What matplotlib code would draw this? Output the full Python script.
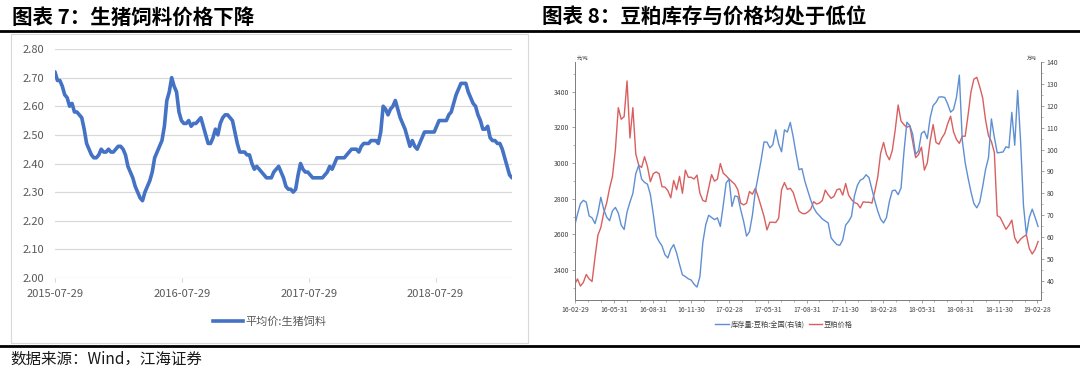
import numpy as np
import pandas as pd
import matplotlib
matplotlib.use("Agg")
import matplotlib.pyplot as plt
from matplotlib.lines import Line2D
from matplotlib.patches import Rectangle
from matplotlib.ticker import FormatStrFormatter, MultipleLocator

plt.rcParams['font.family'] = ['Noto Sans CJK SC', 'DejaVu Sans']
plt.rcParams['axes.unicode_minus'] = False

# ---- 图表7: 平均价:生猪饲料 (周度, 元/公斤) ----
feed_start = "2015-07-29"
feed_ticks = ["2015-07-29", "2016-07-29", "2017-07-29", "2018-07-29"]
feed_price = [
    2.72, 2.69, 2.69, 2.67, 2.64, 2.63, 2.60, 2.61, 2.58, 2.58,
    2.57, 2.56, 2.52, 2.47, 2.45, 2.43, 2.42, 2.42, 2.43, 2.45,
    2.44, 2.44, 2.45, 2.44, 2.44, 2.45, 2.46, 2.46, 2.45, 2.43,
    2.39, 2.37, 2.35, 2.32, 2.30, 2.28, 2.27, 2.30, 2.32, 2.34,
    2.37, 2.42, 2.44, 2.46, 2.48, 2.53, 2.62, 2.65, 2.70, 2.67,
    2.65, 2.58, 2.55, 2.54, 2.54, 2.55, 2.53, 2.54, 2.54, 2.55,
    2.56, 2.53, 2.50, 2.47, 2.47, 2.49, 2.52, 2.50, 2.54, 2.56,
    2.57, 2.57, 2.56, 2.55, 2.51, 2.47, 2.44, 2.44, 2.44, 2.43,
    2.43, 2.40, 2.38, 2.39, 2.38, 2.37, 2.36, 2.35, 2.35, 2.35,
    2.37, 2.38, 2.39, 2.37, 2.35, 2.32, 2.31, 2.31, 2.30, 2.31,
    2.36, 2.40, 2.38, 2.37, 2.37, 2.36, 2.35, 2.35, 2.35, 2.35,
    2.35, 2.36, 2.37, 2.39, 2.38, 2.40, 2.42, 2.42, 2.42, 2.42,
    2.43, 2.44, 2.45, 2.45, 2.45, 2.44, 2.46, 2.47, 2.47, 2.47,
    2.48, 2.48, 2.48, 2.47, 2.51, 2.60, 2.59, 2.57, 2.59, 2.60,
    2.62, 2.59, 2.56, 2.54, 2.52, 2.49, 2.46, 2.48, 2.46, 2.45,
    2.47, 2.49, 2.51, 2.51, 2.51, 2.51, 2.51, 2.53, 2.55, 2.55,
    2.55, 2.55, 2.57, 2.58, 2.61, 2.64, 2.66, 2.68, 2.68, 2.68,
    2.65, 2.63, 2.61, 2.60, 2.57, 2.55, 2.52, 2.52, 2.53, 2.49,
    2.48, 2.48, 2.47, 2.47, 2.45, 2.42, 2.39, 2.36, 2.35,
]

# ---- 图表8: 豆粕价格(元/吨) 与 库存量:豆粕:全国(万吨) ----
meal_start = "2016-02-27"
meal_end = "2019-03-03"
meal_price = [
    2320, 2350, 2310, 2330, 2375, 2350, 2336, 2470, 2595, 2638,
    2720, 2775, 2858, 2925, 3075, 3310, 3245, 3260, 3460, 3140,
    3310, 3050, 2988, 2975, 3035, 2980, 2895, 2940, 2950, 2940,
    2867, 2865, 2845, 2805, 2902, 2850, 2925, 2830, 2960, 2920,
    2920, 2910, 2932, 2830, 2790, 2783, 2858, 2935, 2898, 2910,
    2997, 2943, 2928, 2910, 2895, 2880, 2850, 2775, 2765, 2775,
    2840, 2825, 2858, 2810, 2755, 2700, 2625, 2668, 2668, 2666,
    2690, 2850, 2890, 2852, 2858, 2835, 2780, 2730, 2718, 2715,
    2725, 2740, 2783, 2770, 2775, 2790, 2848, 2822, 2802, 2813,
    2850, 2855, 2820, 2885, 2820, 2795, 2778, 2772, 2748, 2782,
    2780, 2780, 2775, 2842, 2920, 3055, 3115, 3048, 3018, 3070,
    3185, 3325, 3235, 3215, 3200, 3208, 3120, 3030, 3047, 3089,
    2960, 3000, 3125, 3215, 3115, 3105, 3140, 3166, 3220, 3262,
    3175, 3132, 3110, 3150, 3150, 3270, 3400, 3470, 3480, 3427,
    3365, 3240, 3153, 3120, 3060, 2705, 2695, 2662, 2628, 2650,
    2680, 2580, 2550, 2573, 2587, 2597, 2520, 2490, 2515, 2560,
]
meal_stock = [
    65, 70.5, 75.3, 76.8, 76, 69.7, 68.8, 66.2, 71, 78.2,
    72.7, 69.2, 67.5, 72, 73.6, 71, 65.5, 63.5, 71.5, 76,
    80, 89, 92.8, 86.5, 85, 84.2, 79.5, 70.5, 60.5, 58,
    56, 52, 50.5, 54.5, 56.6, 52.8, 47.6, 42.8, 42, 41,
    40.4, 38.5, 37.2, 42, 57.6, 65.7, 70, 69, 68, 68.8,
    64.9, 74.5, 84.8, 86.5, 74, 78.8, 78.5, 72.5, 67.2, 60.5,
    62.5, 70, 80.8, 88, 95.2, 103.5, 103.4, 100.8, 102.2, 109,
    102.6, 99, 109, 108, 112.4, 105.8, 98, 90.8, 91.3, 85.6,
    81.2, 77, 73.5, 71.2, 69.8, 68.3, 67.4, 66.5, 59.7, 58,
    56.6, 56.3, 58.8, 65.5, 67.2, 69.5, 78.8, 83.6, 86, 86.7,
    88.5, 87.2, 82, 76.6, 71.9, 68.2, 66.5, 69, 76.3, 81.2,
    81.5, 79.4, 82.5, 99, 112.5, 111, 107, 97.8, 99.5, 107.4,
    108.4, 105, 114.6, 120.1, 121.6, 124, 124.1, 123.8, 120.8, 117.1,
    118.3, 123.8, 134, 104.3, 94, 87, 80.6, 75.3, 73.4, 76,
    83.1, 91, 96.3, 114, 105.7, 98.5, 98.7, 98.9, 101.3, 100.8,
    117, 102, 127, 104, 74.5, 61.2, 69, 72.8, 69, 64.9,
]

W, H = 1080, 370
fig = plt.figure(figsize=(W / 100, H / 100), dpi=100)

def fx(px):
    return px / W

def fy(py):
    return 1 - py / H

# ---------------- 左图 ----------------
feed_dates = pd.date_range(feed_start, periods=len(feed_price), freq="7D")
ax1 = fig.add_axes([fx(55), fy(278), fx(457), 229 / H])
ax1.plot(feed_dates, feed_price, color='#4472c4', lw=2.6,
         solid_joinstyle='round', solid_capstyle='round')
ax1.set_xlim(feed_dates[0], feed_dates[-1])
ax1.set_ylim(2.0, 2.8)
ax1.set_yticks(np.arange(2.0, 2.81, 0.1))
ax1.yaxis.set_major_formatter(FormatStrFormatter('%.2f'))
ax1.set_xticks(pd.to_datetime(feed_ticks))
ax1.set_xticklabels(feed_ticks)
ax1.grid(axis='y', color='#d9d9d9', lw=0.9)
ax1.set_axisbelow(True)
for s in ax1.spines.values():
    s.set_visible(False)
ax1.tick_params(axis='y', length=0, pad=8, labelsize=8, labelcolor='#595959')
ax1.tick_params(axis='x', length=3, color='#d9d9d9', pad=5, labelsize=8,
                labelcolor='#595959')

fig.legend([Line2D([], [], color='#4472c4', lw=2.6)], ['平均价:生猪饲料'],
           loc='center', bbox_to_anchor=(fx(270), fy(322)), frameon=False,
           fontsize=8, handlelength=2.7, handletextpad=0.2, labelcolor='#595959')

fig.add_artist(Rectangle((fx(11), fy(343)), fx(517), 309 / H,
                         transform=fig.transFigure, fill=False,
                         ec='#d9d9d9', lw=0.8))

# ---------------- 右图 ----------------
red = '#d95f5f'
blue = '#5f8fd3'
meal_dates = pd.date_range(meal_start, meal_end, periods=len(meal_price))
ax2 = fig.add_axes([fx(575), fy(300), fx(466), 238 / H])
ax2.plot(meal_dates, meal_price, color=red, lw=1.0)
ax3 = ax2.twinx()
ax3.plot(meal_dates, meal_stock, color=blue, lw=1.0)

ax2.set_xlim(pd.Timestamp("2016-02-28"), pd.Timestamp("2019-03-10"))
ax2.set_ylim(2232, 3566)
ax3.set_ylim(31.3, 140)
ax2.set_yticks(np.arange(2400, 3401, 200))
ax2.yaxis.set_minor_locator(MultipleLocator(100))
ax3.set_yticks(np.arange(40, 141, 10))
ax3.yaxis.set_minor_locator(MultipleLocator(5))

q_ticks = pd.date_range("2016-02-29", "2019-02-28", freq="3ME")
m_ticks = pd.date_range("2016-02-29", "2019-02-28", freq="ME")
ax2.set_xticks(q_ticks)
ax2.set_xticklabels([d.strftime('%y-%m-%d') for d in q_ticks])
ax2.set_xticks(m_ticks, minor=True)

for a in (ax2, ax3):
    a.spines['top'].set_visible(False)
    for side in ('left', 'right', 'bottom'):
        a.spines[side].set_color('#7f7f7f')
        a.spines[side].set_linewidth(0.7)
    a.tick_params(which='major', length=2.5, width=0.5, color='#7f7f7f',
                  pad=1.5, labelsize=4.9, labelcolor='#404040')
    a.tick_params(which='minor', length=1.5, width=0.4, color='#7f7f7f')

ax2.text(0.003, 1.004, '元/吨', transform=ax2.transAxes, fontsize=3.5,
         ha='left', va='bottom', color='#404040')
ax2.text(0.99, 1.004, '万吨', transform=ax2.transAxes, fontsize=3.5,
         ha='right', va='bottom', color='#404040')

fig.legend([Line2D([], [], color=blue, lw=1.0), Line2D([], [], color=red, lw=1.0)],
           ['库存量:豆粕:全国(右轴)', '豆粕价格'], ncol=2,
           loc='center', bbox_to_anchor=(fx(784), fy(325)), frameon=False,
           fontsize=5.2, handlelength=1.9, handletextpad=0.2, columnspacing=0.6,
           labelcolor='#404040')

# ---------------- 标题 / 分隔线 / 来源 ----------------
fig.text(fx(12), fy(17), '图表 7：生猪饲料价格下降', fontsize=14.8,
         fontweight='heavy', va='center', ha='left')
fig.text(fx(542), fy(17), '图表 8：豆粕库存与价格均处于低位', fontsize=14.8,
         fontweight='heavy', va='center', ha='left')
fig.add_artist(Line2D([0, 1], [fy(30.5), fy(30.5)], transform=fig.transFigure,
                      color='black', lw=2.0))
fig.add_artist(Line2D([0, 1], [fy(346), fy(346)], transform=fig.transFigure,
                      color='black', lw=2.0))
fig.text(fx(10), fy(359), '数据来源：Wind，江海证券', fontsize=11.2,
         fontweight='medium', va='center', ha='left', color='#1a1a1a')

fig.savefig('out.png', dpi=100)
